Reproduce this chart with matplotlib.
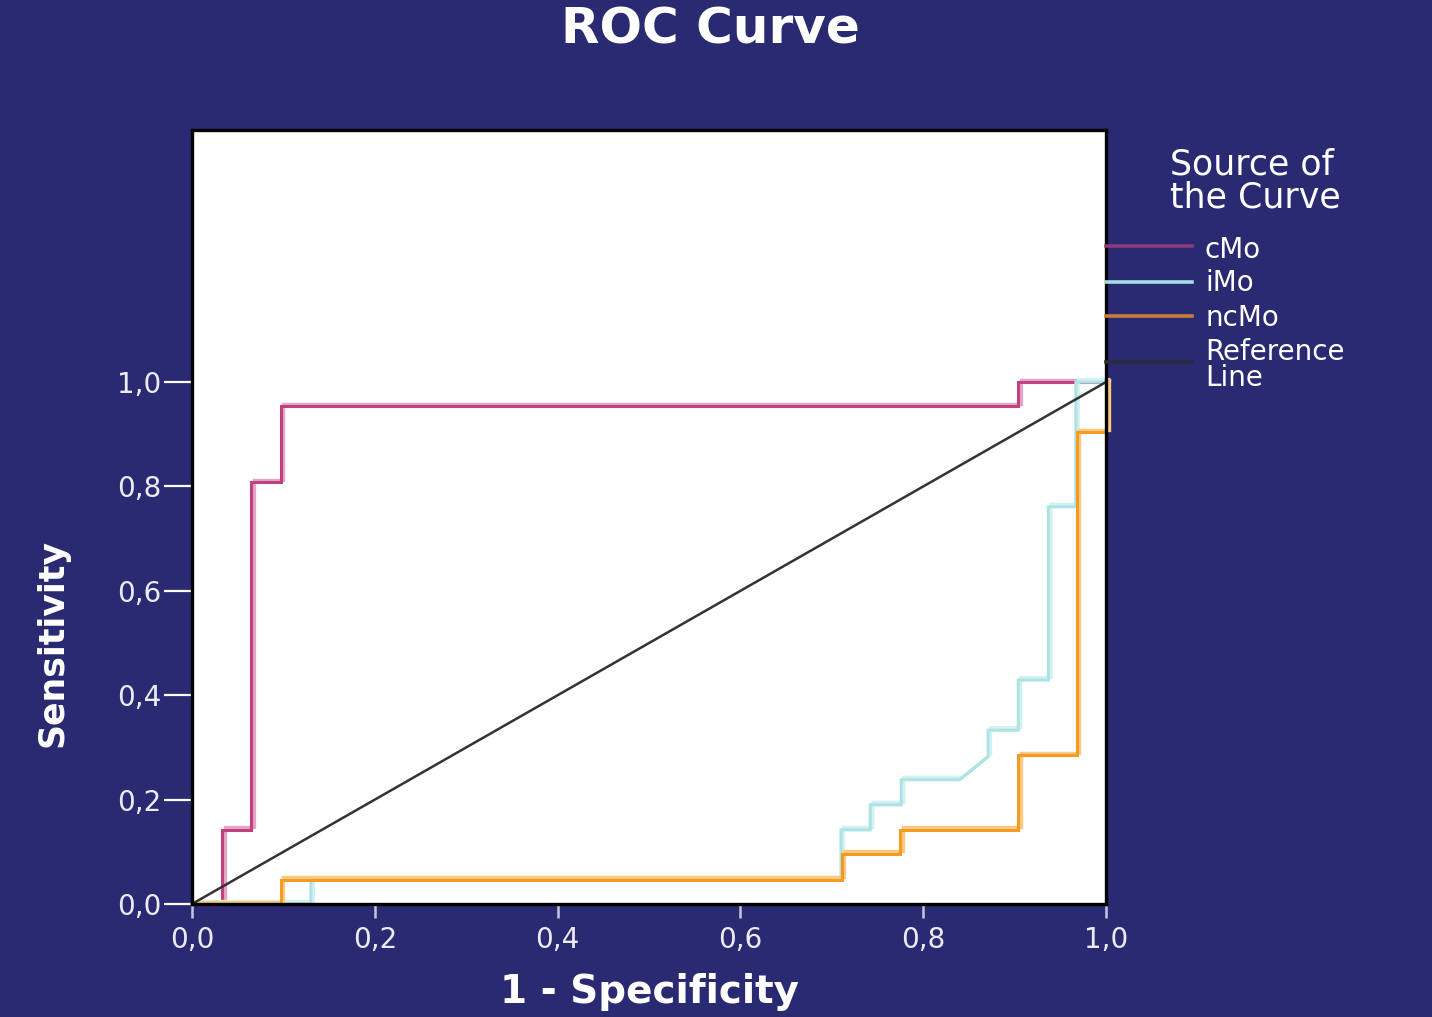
import matplotlib
matplotlib.use("Agg")
import matplotlib.pyplot as plt
import matplotlib.patheffects as pe
from matplotlib.lines import Line2D

# ROC step curves (1 - specificity, sensitivity)
cmo_fpr = [0.0, 0.033, 0.033, 0.065, 0.065, 0.097, 0.097, 0.904, 0.904, 1.0]
cmo_tpr = [0.0, 0.0, 0.142, 0.142, 0.808, 0.808, 0.954, 0.954, 1.0, 1.0]

imo_fpr = [0.0, 0.130, 0.130, 0.710, 0.710, 0.742, 0.742, 0.776, 0.776, 0.840,
           0.871, 0.871, 0.904, 0.904, 0.937, 0.937, 0.967, 0.967, 1.0]
imo_tpr = [0.0, 0.0, 0.046, 0.046, 0.142, 0.142, 0.190, 0.190, 0.238, 0.238,
           0.282, 0.333, 0.333, 0.429, 0.429, 0.761, 0.761, 1.0, 1.0]

ncmo_fpr = [0.0, 0.097, 0.097, 0.711, 0.711, 0.775, 0.775, 0.904, 0.904, 0.968,
            0.968, 1.0, 1.0]
ncmo_tpr = [0.0, 0.0, 0.046, 0.046, 0.096, 0.096, 0.142, 0.142, 0.285, 0.285,
            0.904, 0.904, 1.0]

ref_x = [0.0, 1.0]
ref_y = [0.0, 1.0]

series_names = ["cMo", "iMo", "ncMo", "Reference\nLine"]
tick_values = [0.0, 0.2, 0.4, 0.6, 0.8, 1.0]
tick_labels = ["0,0", "0,2", "0,4", "0,6", "0,8", "1,0"]

BG = "#292a71"
TXT = "#ececf6"

fig = plt.figure(figsize=(14.32, 10.17), dpi=100, facecolor=BG)
ax = fig.add_axes([192 / 1432, 1 - 904 / 1017, 914 / 1432, 774 / 1017])
ax.set_facecolor("white")
ax.set_xlim(0, 1)
ax.set_ylim(0, 1.483)

curves = [
    (cmo_fpr, cmo_tpr, "#c2407f", "#e2a6c4"),
    (imo_fpr, imo_tpr, "#ade3e5", "#d4f1f2"),
    (ncmo_fpr, ncmo_tpr, "#f59a22", "#fbc982"),
]
for xs, ys, col, light in curves:
    ax.plot(xs, ys, color=col, lw=2.2, clip_on=False, zorder=3,
            solid_joinstyle="miter",
            path_effects=[pe.Stroke(offset=(1.8, 1.8), linewidth=2.4,
                                    foreground=light),
                          pe.Normal()])

ax.plot(ref_x, ref_y, color="#333333", lw=1.8, clip_on=False, zorder=4)

for s in ax.spines.values():
    s.set_color("black")
    s.set_linewidth(2.4)
    s.set_zorder(5)

ax.set_xticks(tick_values)
ax.set_xticklabels(tick_labels)
ax.set_yticks(tick_values)
ax.set_yticklabels(tick_labels)
ax.tick_params(axis="y", direction="out", length=20, width=1.6, color="white",
               labelcolor=TXT, labelsize=20, pad=2)
ax.tick_params(axis="x", direction="out", length=10, width=1.8, color="#c6c6e4",
               labelcolor=TXT, labelsize=20, pad=6)

ax.set_xlabel("1 - Specificity", color="white", fontsize=28, fontweight="bold",
              va="center")
ax.xaxis.set_label_coords(0.5, (904 - 992) / 774)
ax.set_ylabel("Sensitivity", color="white", fontsize=25, fontweight="bold")
ax.yaxis.set_label_coords((70 - 192) / 914, 0.5 / 1.483)

fig.text(710 / 1432, 1 - 30 / 1017, "ROC Curve", color="white", fontsize=36,
         fontweight="bold", ha="center", va="center")

# Legend block to the right of the plot
def fx(px):
    return px / 1432


def fy(py):
    return 1 - py / 1017


fig.text(fx(1170), fy(181), "Source of\nthe Curve", color="white", fontsize=25,
         ha="left", va="center", linespacing=0.95)

legend_cols = ["#8e3a7c", "#a6dde0", "#c87a3a", "#2a2a3a"]
line_y = [246, 282, 316, 362]
text_y = [250, 283, 318, 365]
for name, col, ly, ty in zip(series_names, legend_cols, line_y, text_y):
    fig.add_artist(Line2D([fx(1106), fx(1192)], [fy(ly), fy(ly)], color=col,
                          lw=2.6, transform=fig.transFigure))
    fig.text(fx(1205), fy(ty), name, color="white", fontsize=20, ha="left",
             va="center", linespacing=0.95)

fig.savefig("out.png", dpi=100, facecolor=BG)
